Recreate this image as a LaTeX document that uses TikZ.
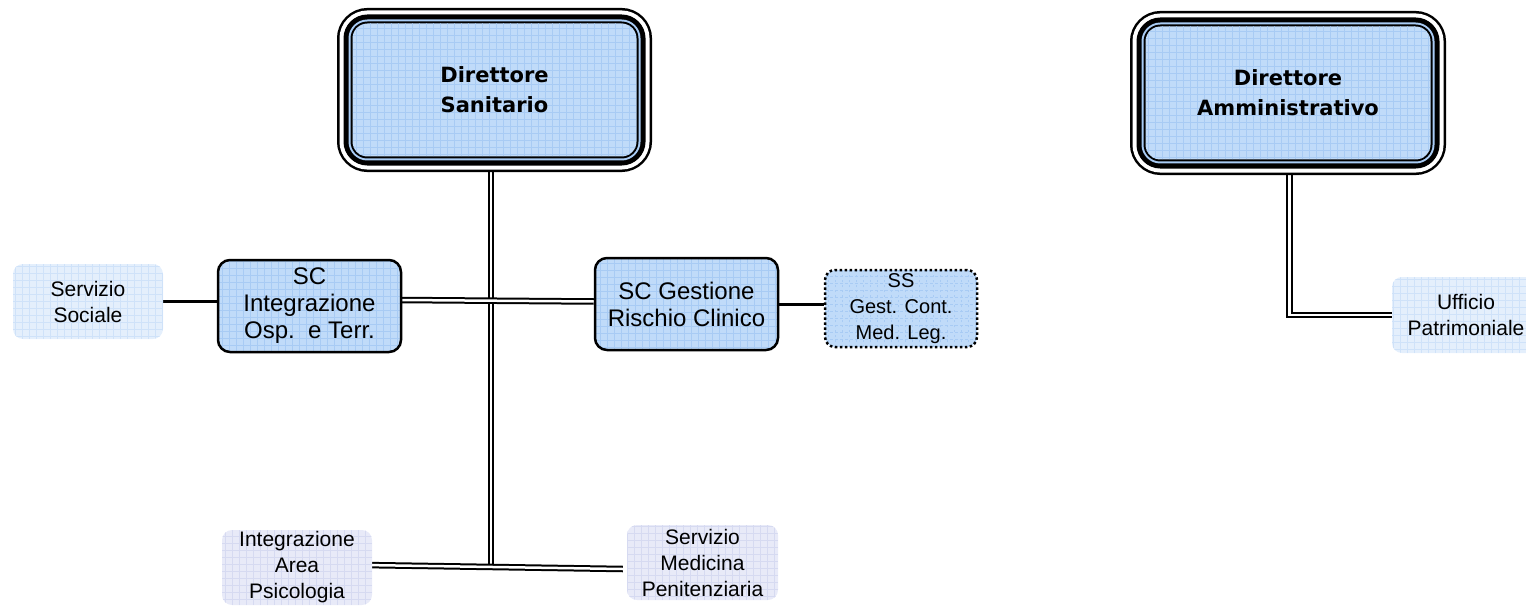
\documentclass[tikz,border=0pt]{standalone}
\usepackage{fontspec}
\setmainfont{Liberation Sans}
\newfontfamily\dvsans{DejaVu Sans}
\usetikzlibrary{calc,backgrounds}
\definecolor{mainfill}{HTML}{C0DBF9}
\definecolor{maingrid}{HTML}{A8CBF4}
\definecolor{ringblue}{HTML}{A9CCF5}
\definecolor{palefill}{HTML}{E4EFFC}
\definecolor{palegrid}{HTML}{CFE2F9}
\definecolor{lavfill}{HTML}{E8EAF8}
\definecolor{lavgrid}{HTML}{D6DAF1}
\tikzset{
  gridded/.style={path picture={\draw[#1,line width=0.8pt,step=7pt] (path picture bounding box.south west) grid (path picture bounding box.north east);}},
  dirbox/.style={rounded corners=15pt, inner sep=0pt, fill=mainfill, gridded=maingrid,
    minimum width=284pt, minimum height=133pt, align=center,
    font=\dvsans\bfseries\fontsize{21}{30}\selectfont,
    preaction={draw=black,line width=31pt},
    preaction={draw=white,line width=26pt},
    preaction={draw=black,line width=18pt},
    preaction={draw=ringblue,line width=8pt},
    preaction={draw=black,line width=4pt}},
  scbox/.style={draw=black, line width=2.5pt, rounded corners=12pt, fill=mainfill, gridded=maingrid,
    minimum width=183pt, minimum height=92pt, inner sep=0pt, align=center,
    font=\fontsize{24}{27}\selectfont},
  ssbox/.style={draw=black, line width=2.5pt, dash pattern=on 2.5pt off 2.5pt, rounded corners=10pt,
    fill=mainfill, gridded=maingrid, minimum width=152pt, minimum height=77pt, inner sep=0pt,
    align=center, font=\fontsize{20}{26}\selectfont},
  palebox/.style={rounded corners=10pt, fill=palefill, gridded=palegrid,
    minimum width=150pt, minimum height=75pt, inner sep=0pt, align=center,
    font=\fontsize{21}{26}\selectfont},
  lavbox/.style={rounded corners=10pt, fill=lavfill, gridded=lavgrid,
    minimum width=150pt, minimum height=75pt, inner sep=0pt, align=center,
    font=\fontsize{21}{26}\selectfont},
  dconn/.style={draw=black, double=white, double distance=2.5pt, line width=2pt},
  sconn/.style={draw=black, line width=3pt}
}
\begin{document}
\begin{tikzpicture}[x=1pt,y=-1pt]
\useasboundingbox (0,0) rectangle (1526,607);
% directors
\node[dirbox] (ds) at (494.5,90) {Direttore\\Sanitario};
\node[dirbox, minimum width=285pt] (da) at (1288,93) {Direttore\\Amministrativo};
% SC boxes
\node[scbox] (sci) at (309.5,306) {SC\\Integrazione\\Osp.\ \ e Terr.};
\node[scbox] (scg) at (686.5,304) {SC Gestione\\Rischio Clinico};
\node[ssbox] (ss) at (901,308.5) {SS\\Gest. Cont.\\Med. Leg.};
\node[palebox] (ssoc) at (88,301.5) {Servizio\\Sociale};
\node[lavbox] (iap) at (297,567.5) {Integrazione\\Area\\Psicologia};
\node[lavbox, minimum width=151pt] (smp) at (702.5,562.5) {Servizio\\Medicina\\Penitenziaria};
\begin{scope}
\clip (0,0) rectangle (1526,607);
\node[palebox, minimum width=148pt, minimum height=76pt] (uff) at (1466,315) {Ufficio\\Patrimoniale};
\end{scope}
% connectors
\begin{pgfonlayer}{background}
\coordinate (dsv) at ($(ds.south)+(-3.5,0)$);
\coordinate (jb) at ($(dsv)+(0,409)$);
\draw[dconn] (dsv) -- (jb);
\draw[dconn] ($(sci.east)+(-2,-6)$) -- ($(scg.west)+(0,-2.5)$);
\draw[dconn] ($(iap.east)+(-9,-2.5)$) -- ($(smp.west)+(-4,6.5)$);
\coordinate (dav) at ($(da.south)+(1.5,0)$);
\draw[dconn] (dav) |- (uff.west);
\draw[sconn] (ssoc.east) -- (ssoc.east -| sci.west);
\draw[sconn] (scg.east) -- (scg.east -| ss.west);
\end{pgfonlayer}
\end{tikzpicture}
\end{document}
